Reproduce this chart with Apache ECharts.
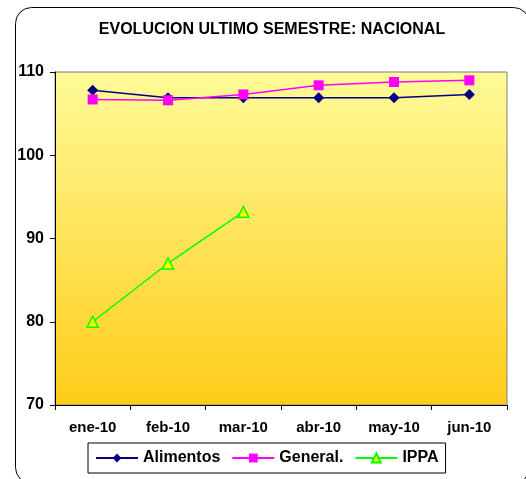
<!DOCTYPE html>
<html>
<head>
<meta charset="utf-8">
<script src="https://cdn.jsdelivr.net/npm/echarts@6/dist/echarts.min.js"></script>
<style>html,body{margin:0;padding:0;background:#fff}#c{width:526px;height:479px}</style>
</head>
<body>
<div id="c"></div>
<script>
var categories = ['ene-10','feb-10','mar-10','abr-10','may-10','jun-10'];
var alimentos = [107.8, 106.9, 106.9, 106.9, 106.9, 107.3];
var general = [106.7, 106.6, 107.3, 108.4, 108.8, 109.0];
var ippa = [80.0, 87.0, 93.2, null, null, null];
var yTicks = [70, 80, 90, 100, 110];

var chart = echarts.init(document.getElementById('c'));
var F = 'Liberation Sans, Arial, sans-serif';
chart.setOption({
  animation: false,
  textStyle: {fontFamily: F},
  title: {
    text: 'EVOLUCION ULTIMO SEMESTRE: NACIONAL',
    left: 267, top: 17, textAlign: 'center',
    textStyle: {fontFamily: F, fontWeight: 'bold', fontSize: 16, color: '#000'}
  },
  graphic: [{
    type: 'rect', left: 13, top: 5, z: -10,
    shape: {width: 514, height: 476, r: 16},
    style: {fill: 'none', stroke: '#000', lineWidth: 1}
  }],
  grid: {
    left: 55, right: 19, top: 72, bottom: 74, show: true,
    backgroundColor: new echarts.graphic.LinearGradient(0, 0, 0, 1, [
      {offset: 0, color: '#FFFB99'}, {offset: 1, color: '#FFCC18'}
    ]),
    borderColor: '#808080', borderWidth: 1
  },
  legend: {
    data: ['Alimentos', 'General.', 'IPPA'],
    left: 88, top: 443, width: 360, height: 32,
    itemWidth: 42, itemHeight: 11, itemGap: 11,
    padding: [7, 7, 7, 7],
    borderColor: '#000', borderWidth: 1, borderRadius: 0,
    textStyle: {fontFamily: F, fontWeight: 'bold', fontSize: 16, color: '#000', padding: [0, 0, 0, 0]}
  },
  xAxis: {
    type: 'category', data: categories, boundaryGap: true,
    axisLine: {lineStyle: {color: '#000'}},
    axisTick: {show: true, length: 5, lineStyle: {color: '#000'}},
    axisLabel: {fontFamily: F, fontWeight: 'bold', fontSize: 15, color: '#000', margin: 15},
    splitLine: {show: false}
  },
  yAxis: {
    type: 'value', min: 70, max: 110, interval: 10,
    axisLine: {show: true, lineStyle: {color: '#000'}},
    axisTick: {show: true, length: 5, lineStyle: {color: '#000'}},
    axisLabel: {fontFamily: F, fontWeight: 'bold', fontSize: 16, color: '#000', margin: 11},
    splitLine: {show: false}
  },
  series: [
    {name: 'Alimentos', type: 'line', data: alimentos, symbol: 'diamond', symbolSize: 11,
      lineStyle: {color: '#000080', width: 1.5}, itemStyle: {color: '#000080'}},
    {name: 'General.', type: 'line', data: general, symbol: 'rect', symbolSize: 10,
      lineStyle: {color: '#FF00FF', width: 1.5}, itemStyle: {color: '#FF00FF'}},
    {name: 'IPPA', type: 'line', data: ippa, symbol: 'triangle', symbolSize: 11,
      lineStyle: {color: '#00FF00', width: 1.5},
      itemStyle: {color: '#FFFF00', borderColor: '#00FF00', borderWidth: 1.5}}
  ]
});
</script>
</body>
</html>
